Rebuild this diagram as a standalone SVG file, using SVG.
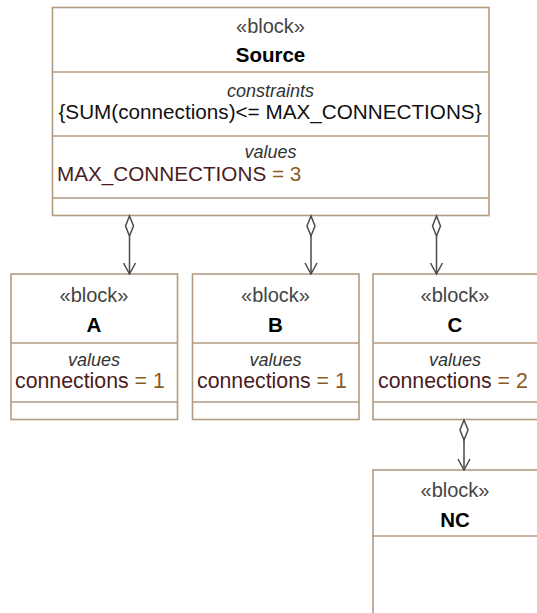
<svg xmlns="http://www.w3.org/2000/svg" width="537" height="613" viewBox="0 0 537 613">
<style>
.box{fill:#fff;stroke:#b39b80;stroke-width:1.6}
.div{stroke:#b39b80;stroke-width:1.6}
.st{font-family:"Liberation Sans",Arial,sans-serif;font-size:20px;fill:#444;text-anchor:middle}
.nm{font-family:"Liberation Sans",Arial,sans-serif;font-size:20.5px;font-weight:bold;fill:#000;text-anchor:middle}
.cp{font-family:"Liberation Sans",Arial,sans-serif;font-size:18px;font-style:italic;fill:#333;text-anchor:middle}
.tx{font-family:"Liberation Sans",Arial,sans-serif;font-size:20.7px;fill:#111}
.tc{font-size:21.3px}
.vn{fill:#4a1c1c}
.vv{fill:#8a5a1e}
.con{stroke:#4a4a4a;stroke-width:1.5;fill:none}
.dia{stroke:#4a4a4a;stroke-width:1.5;fill:#fff}
</style>
<g id="Source">
<rect class="box" x="52.5" y="7.5" width="436.5" height="208"/>
<line class="div" x1="52.5" y1="72" x2="489" y2="72"/>
<line class="div" x1="52.5" y1="136" x2="489" y2="136"/>
<line class="div" x1="52.5" y1="198" x2="489" y2="198"/>
<text class="st" x="270.5" y="33">«block»</text>
<text class="nm" x="270.5" y="62">Source</text>
<text class="cp" x="270.5" y="97">constraints</text>
<text class="tx" x="270" y="119" text-anchor="middle">{SUM(connections)&lt;= MAX_CONNECTIONS}</text>
<text class="cp" x="270.5" y="158">values</text>
<text class="tx" x="57" y="181"><tspan class="vn">MAX_CONNECTIONS</tspan><tspan class="vv"> = 3</tspan></text>
</g>
<g id="A">
<rect class="box" x="11" y="274" width="166.5" height="145.5"/>
<line class="div" x1="11" y1="343" x2="177.5" y2="343"/>
<line class="div" x1="11" y1="402" x2="177.5" y2="402"/>
<text class="st" x="94" y="302">«block»</text>
<text class="nm" x="94" y="332">A</text>
<text class="cp" x="94" y="366">values</text>
<text class="tx tc" x="15" y="388"><tspan class="vn">connections</tspan><tspan class="vv"> = 1</tspan></text>
</g>
<g id="B">
<rect class="box" x="192.5" y="274" width="166.5" height="145.5"/>
<line class="div" x1="192.5" y1="343" x2="359" y2="343"/>
<line class="div" x1="192.5" y1="402" x2="359" y2="402"/>
<text class="st" x="275.5" y="302">«block»</text>
<text class="nm" x="275.5" y="332">B</text>
<text class="cp" x="275.5" y="366">values</text>
<text class="tx tc" x="197" y="388"><tspan class="vn">connections</tspan><tspan class="vv"> = 1</tspan></text>
</g>
<g id="C">
<rect class="box" x="373" y="274" width="166.5" height="145.5"/>
<line class="div" x1="373" y1="343" x2="539.5" y2="343"/>
<line class="div" x1="373" y1="402" x2="539.5" y2="402"/>
<text class="st" x="455" y="302">«block»</text>
<text class="nm" x="455" y="332">C</text>
<text class="cp" x="455" y="366">values</text>
<text class="tx tc" x="378" y="388"><tspan class="vn">connections</tspan><tspan class="vv"> = 2</tspan></text>
</g>
<g id="NC">
<rect class="box" x="373" y="470" width="166.5" height="160"/>
<line class="div" x1="373" y1="536" x2="539.5" y2="536"/>
<text class="st" x="455" y="497">«block»</text>
<text class="nm" x="455" y="527">NC</text>
</g>
<g id="connectors">
<g transform="translate(129.5,216)">
<line class="con" x1="0" y1="20" x2="0" y2="58"/>
<path class="dia" d="M0,0 L4,10 L0,20 L-4,10 Z"/>
<path class="con" d="M-6,47 L0,58 L6,47"/>
</g>
<g transform="translate(311,216)">
<line class="con" x1="0" y1="20" x2="0" y2="58"/>
<path class="dia" d="M0,0 L4,10 L0,20 L-4,10 Z"/>
<path class="con" d="M-6,47 L0,58 L6,47"/>
</g>
<g transform="translate(436.5,216)">
<line class="con" x1="0" y1="20" x2="0" y2="58"/>
<path class="dia" d="M0,0 L4,10 L0,20 L-4,10 Z"/>
<path class="con" d="M-6,47 L0,58 L6,47"/>
</g>
<g transform="translate(464,420)">
<line class="con" x1="0" y1="20" x2="0" y2="50"/>
<path class="dia" d="M0,0 L4,10 L0,20 L-4,10 Z"/>
<path class="con" d="M-6,39 L0,50 L6,39"/>
</g>
</g>
</svg>
